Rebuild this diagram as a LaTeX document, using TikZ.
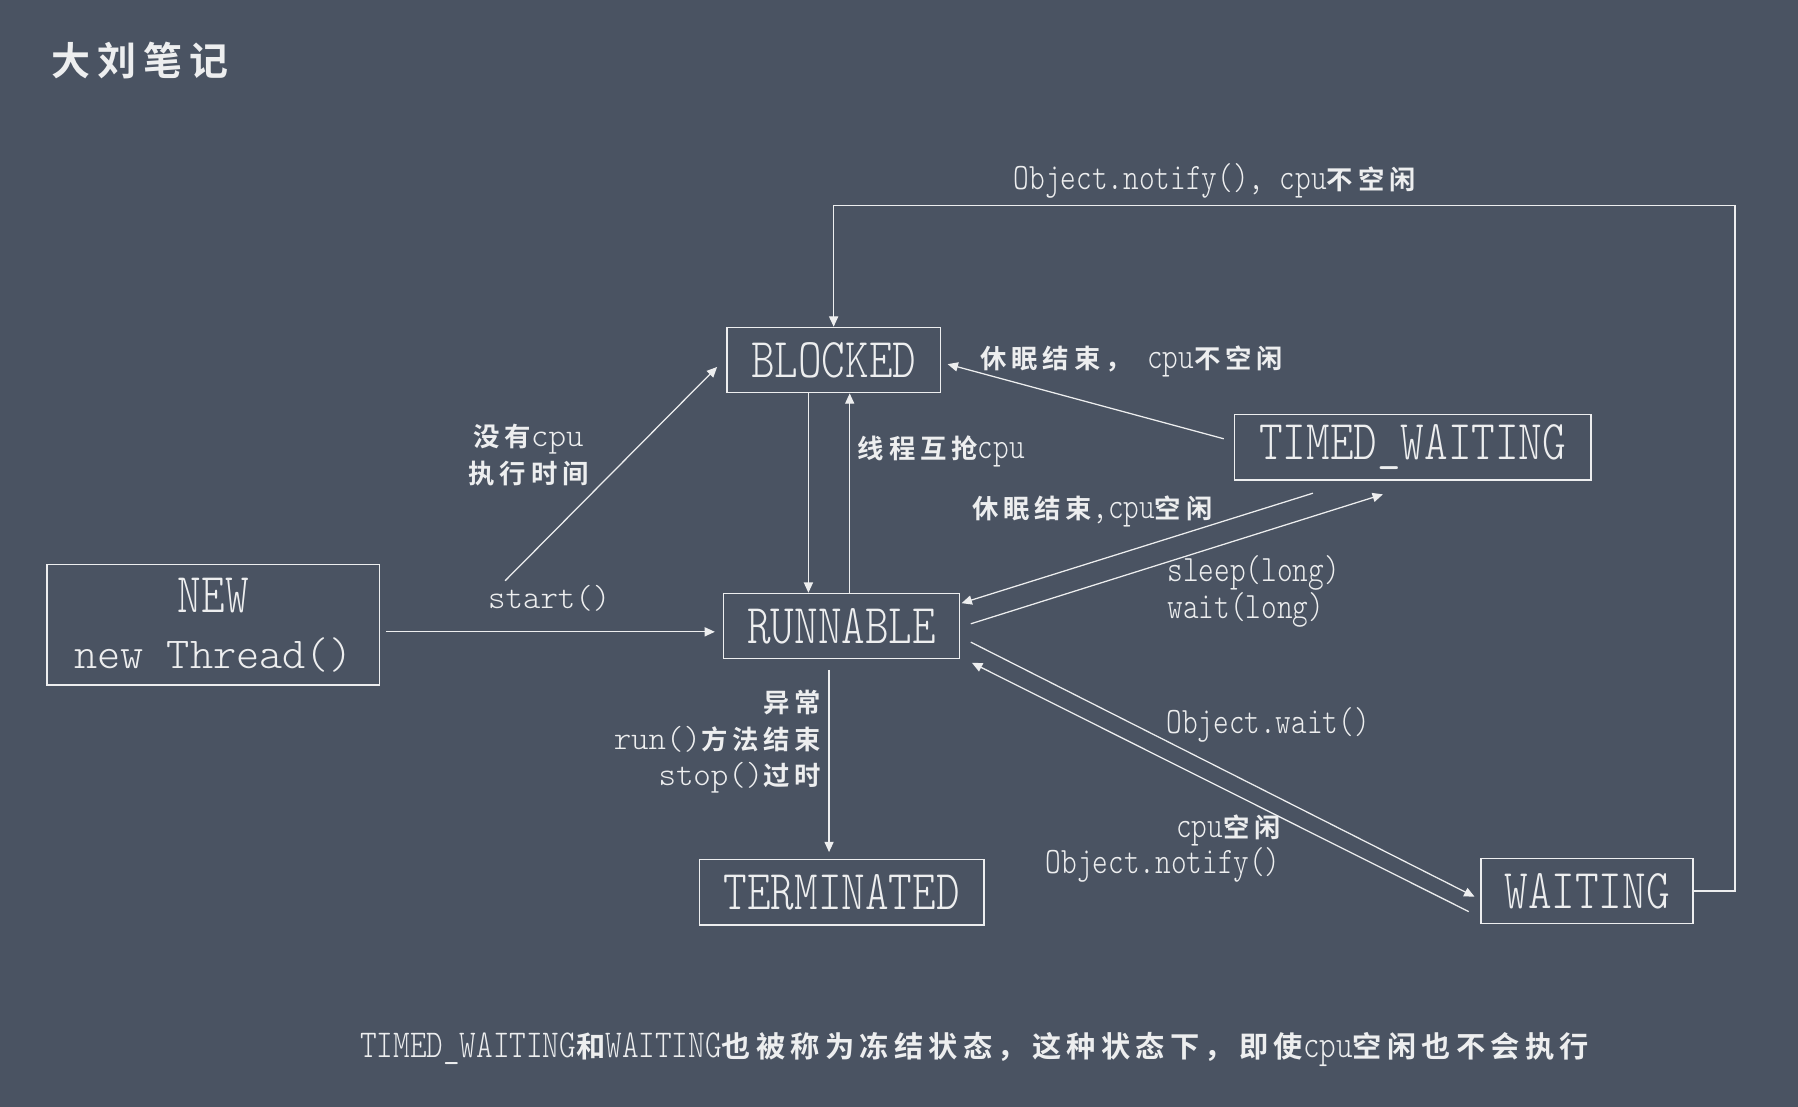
\documentclass[tikz,border=0pt]{standalone}
\usepackage{fontspec}
\newfontfamily\cond[FakeStretch=0.8]{lmmonolt10-regular.otf}
\newfontfamily\wmono{lmmonolt10-regular.otf}
\newfontfamily\cjk[LetterSpace=18]{Noto Sans CJK SC Bold}
\definecolor{board}{RGB}{74,83,98}
\colorlet{chalk}{white!90!board}
\usetikzlibrary{positioning, arrows.meta}
\newcommand{\fsz}[2]{\fontsize{#1}{#2}\selectfont}
\newcommand{\zh}[2][23pt]{{\cjk\fontsize{#1}{32pt}\selectfont #2}}

\begin{document}
\begin{tikzpicture}[
    x=1pt, y=-1pt,
    state/.style={draw=chalk, line width=1.2pt, inner sep=0pt, minimum height=57pt,
      text=chalk, font=\cond\fsz{49pt}{49pt}},
    lab/.style={text=chalk, inner sep=0pt, font=\cond\fsz{32.5pt}{32pt}},
    wlab/.style={text=chalk, inner sep=0pt, font=\wmono\fsz{29pt}{32pt}},
    link/.style={draw=chalk, line width=1.1pt, -{Triangle[length=9pt,width=8pt]}},
  ]
    \useasboundingbox (0,0) rectangle (1568,965);
    \fill[board] (0,0) rectangle (1568,965);

    \node[text=chalk, inner sep=0pt] (title) at (122,53) {\zh[34pt]{大刘笔记}};

    \node[state, minimum width=186pt] (blocked) at (727,314) {BLOCKED};
    \node[state, minimum width=311pt] (timed) at (1232,390) {TIMED\_WAITING};
    \node[state, minimum width=290pt, minimum height=105pt, align=center] (new) at (186,545)
      {NEW\\{\wmono\fsz{38.5pt}{49pt}new Thread()}};
    \node[state, minimum width=206pt] (runnable) at (734,546) {RUNNABLE};
    \node[state, minimum width=248pt, below=174pt of runnable] (terminated) {TERMINATED};
    \node[state, minimum width=185pt] (waiting) at (1384,777) {WAITING};

    \node[lab, anchor=west] (l-notify) at (884,158) {Object.notify(), cpu\zh{不空闲}};
    \node[lab, anchor=west] (l-sleepend) at (855,315) {\zh{休眠结束，} cpu\zh{不空闲}};
    \node[lab, anchor=west] (l-compete) at (748,394) {\zh{线程互抢}cpu};
    \node[lab, anchor=west] (l-sleepfree) at (848,446) {\zh{休眠结束},cpu\zh{空闲}};
    \node[wlab, align=center] (l-nocpu) at (461,397) {\zh{没有}cpu\\\zh{执行时间}};
    \node[wlab] (l-start) at (479,522) {start()};
    \node[lab, align=left, anchor=west] (l-sleep) at (1018,516) {sleep(long)\\wait(long)};
    \node[wlab, align=right, anchor=east] (l-end) at (716,647)
      {\zh{异常}\\run()\zh{方法结束}\\stop()\zh{过时}};
    \node[lab, anchor=west] (l-wait) at (1017,632) {Object.wait()};
    \node[lab, align=right, anchor=east] (l-notify2) at (1117,740) {cpu\zh{空闲}\\Object.notify()};
    \node[lab, font=\cond\fsz{34.5pt}{32pt}] (caption) at (850,915)
      {TIMED\_WAITING\zh[25.5pt]{和}WAITING\zh[25.5pt]{也被称为冻结状态，这种状态下，即使}cpu\zh[25.5pt]{空闲也不会执行}};

    \coordinate (loop) at (1513,179);
    \draw[link] (waiting.east) -| (loop) -| (blocked.north);
    \draw[link, shorten <=9pt, shorten >=6pt] ([yshift=5pt]timed.west) -- ([yshift=-2pt]blocked.east);
    \draw[link] ([xshift=-22pt]blocked.south) -- ([xshift=-22pt]blocked.south |- runnable.north);
    \draw[link] ([xshift=7pt]runnable.north) -- ([xshift=7pt]runnable.north |- blocked.south);
    \draw[link] ([xshift=15pt,yshift=4pt]l-start.north west) -- ([xshift=-8pt,yshift=-6pt]blocked.west);
    \draw[link, shorten <=5pt, shorten >=7pt] ([yshift=-6pt]new.east) -- ([yshift=-6pt]new.east -| runnable.west);
    \draw[link] ([xshift=-87pt,yshift=-11pt]timed.south) -- ([xshift=1pt,yshift=20pt]runnable.east);
    \draw[link] ([xshift=9pt,yshift=2pt]runnable.east) -- ([xshift=-26pt,yshift=-12pt]timed.south);
    \draw[link, shorten <=9pt, shorten >=6pt] ([xshift=-11pt]runnable.south) -- ([xshift=-11pt]terminated.north);
    \draw[link] ([xshift=9pt,yshift=-14pt]runnable.east) -- ([xshift=-5pt,yshift=-5pt]waiting.west);
    \draw[link] ([xshift=-10pt,yshift=-18pt]waiting.west) -- ([xshift=10pt,yshift=-32pt]runnable.east);
  \end{tikzpicture}
\end{document}
